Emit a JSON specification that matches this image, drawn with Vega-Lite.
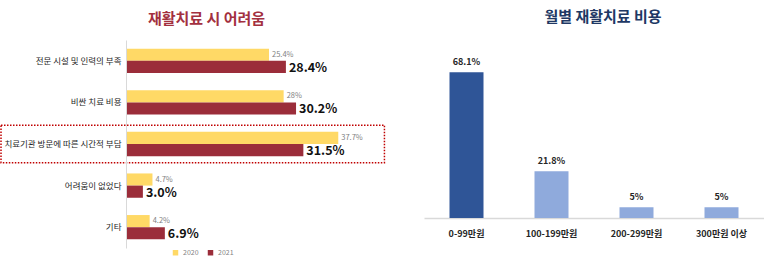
{
  "$schema": "https://vega.github.io/schema/vega-lite/v6.json",
  "padding": {"left": 0, "top": 10, "right": 0, "bottom": 0},
  "background": "white",
  "config": {
    "font": "Noto Sans CJK KR",
    "view": {"stroke": null},
    "concat": {"spacing": 38}
  },
  "resolve": {"scale": {"color": "independent"}},
  "datasets": {
    "hard": [
      {"cat": "전문 시설 및 인력의 부족", "year": "2020", "value": 25.4, "label": "25.4%"},
      {"cat": "전문 시설 및 인력의 부족", "year": "2021", "value": 28.4, "label": "28.4%"},
      {"cat": "비싼 치료 비용", "year": "2020", "value": 28, "label": "28%"},
      {"cat": "비싼 치료 비용", "year": "2021", "value": 30.2, "label": "30.2%"},
      {"cat": "치료기관 방문에 따른 시간적 부담", "year": "2020", "value": 37.7, "label": "37.7%"},
      {"cat": "치료기관 방문에 따른 시간적 부담", "year": "2021", "value": 31.5, "label": "31.5%"},
      {"cat": "어려움이 없었다", "year": "2020", "value": 4.7, "label": "4.7%"},
      {"cat": "어려움이 없었다", "year": "2021", "value": 3.0, "label": "3.0%"},
      {"cat": "기타", "year": "2020", "value": 4.2, "label": "4.2%"},
      {"cat": "기타", "year": "2021", "value": 6.9, "label": "6.9%"}
    ],
    "cost": [
      {"cat": "0-99만원", "value": 68.1, "label": "68.1%", "grp": "a"},
      {"cat": "100-199만원", "value": 21.8, "label": "21.8%", "grp": "b"},
      {"cat": "200-299만원", "value": 5, "label": "5%", "grp": "b"},
      {"cat": "300만원 이상", "value": 5, "label": "5%", "grp": "b"}
    ],
    "highlight": [
      {"cat": "치료기관 방문에 따른 시간적 부담"}
    ]
  },
  "hconcat": [
    {
      "width": 259,
      "height": 208,
      "title": {"text": "재활치료 시 어려움", "fontSize": 15, "fontWeight": "bold", "color": "#A3303F", "anchor": "middle", "dx": -49, "offset": 13},
      "encoding": {
        "y": {"field": "cat", "type": "nominal",
          "sort": ["전문 시설 및 인력의 부족", "비싼 치료 비용", "치료기관 방문에 따른 시간적 부담", "어려움이 없었다", "기타"],
          "scale": {"paddingInner": 0.1, "paddingOuter": 0.05},
          "axis": {"title": null, "ticks": false, "domain": true, "domainColor": "#d9d9d9", "labelFontSize": 8.5, "labelColor": "#262626", "labelPadding": 5, "labelLimit": 200}}
      },
      "layer": [
        {
          "data": {"name": "highlight"},
          "mark": {"type": "rect", "filled": false, "stroke": "#C00000", "strokeWidth": 1.5, "strokeDash": [1.5, 1.5], "clip": false},
          "encoding": {
            "x": {"datum": -22.2, "type": "quantitative", "scale": {"domain": [0, 46], "nice": false, "zero": false}, "axis": null},
            "x2": {"datum": 45.9}
          }
        },
        {
          "data": {"name": "hard"},
          "mark": {"type": "bar"},
          "encoding": {
            "x": {"field": "value", "type": "quantitative", "scale": {"domain": [0, 46], "nice": false, "zero": false}, "axis": null},
            "yOffset": {"field": "year", "type": "nominal", "scale": {"paddingInner": 0, "paddingOuter": 0.54}},
            "color": {"field": "year", "type": "nominal", "scale": {"range": ["#FFD966", "#9B2D3A"]},
              "legend": {"title": null, "orient": "none", "legendX": 46, "legendY": 209, "direction": "horizontal", "symbolType": "square", "symbolSize": 30, "labelFontSize": 7, "labelColor": "#7f7f7f", "columnPadding": 8, "symbolStrokeWidth": 0}}
          }
        },
        {
          "data": {"name": "hard"},
          "transform": [{"filter": "datum.year == '2020'"}],
          "mark": {"type": "text", "align": "left", "baseline": "middle", "dx": 3, "fontSize": 7.5, "color": "#7f7f7f"},
          "encoding": {
            "x": {"field": "value", "type": "quantitative", "scale": {"domain": [0, 46], "nice": false, "zero": false}, "axis": null},
            "yOffset": {"field": "year", "type": "nominal", "scale": {"domain": ["2020", "2021"], "paddingInner": 0, "paddingOuter": 0.54}},
            "text": {"field": "label"}
          }
        },
        {
          "data": {"name": "hard"},
          "transform": [{"filter": "datum.year == '2021'"}],
          "mark": {"type": "text", "align": "left", "baseline": "middle", "dx": 3, "dy": 1, "fontSize": 12.5, "fontWeight": "bold", "color": "#111111"},
          "encoding": {
            "x": {"field": "value", "type": "quantitative", "scale": {"domain": [0, 46], "nice": false, "zero": false}, "axis": null},
            "yOffset": {"field": "year", "type": "nominal", "scale": {"domain": ["2020", "2021"], "paddingInner": 0, "paddingOuter": 0.54}},
            "text": {"field": "label"}
          }
        }
      ]
    },
    {
      "width": 340,
      "height": 178,
      "data": {"name": "cost"},
      "title": {"text": "월별 재활치료 비용", "fontSize": 15, "fontWeight": "bold", "color": "#203864", "anchor": "middle", "dx": 9, "offset": 15},
      "encoding": {
        "x": {"field": "cat", "type": "nominal", "sort": null,
          "scale": {"paddingInner": 0.6, "paddingOuter": 0.3},
          "axis": {"title": null, "labelAngle": 0, "ticks": false, "domainColor": "#d9d9d9", "domainWidth": 1.5, "labelFontSize": 9, "labelFontWeight": "bold", "labelColor": "#262626", "labelPadding": 11}},
        "y": {"field": "value", "type": "quantitative", "scale": {"domain": [0, 83.2], "nice": false}, "axis": null}
      },
      "layer": [
        {
          "mark": {"type": "bar"},
          "encoding": {
            "color": {"field": "grp", "type": "nominal", "scale": {"range": ["#2F5597", "#8FAADC"]}, "legend": null}
          }
        },
        {
          "mark": {"type": "text", "baseline": "bottom", "dy": -5, "fontSize": 9, "fontWeight": "bold", "color": "#262626"},
          "encoding": {"text": {"field": "label"}}
        }
      ]
    }
  ]
}
